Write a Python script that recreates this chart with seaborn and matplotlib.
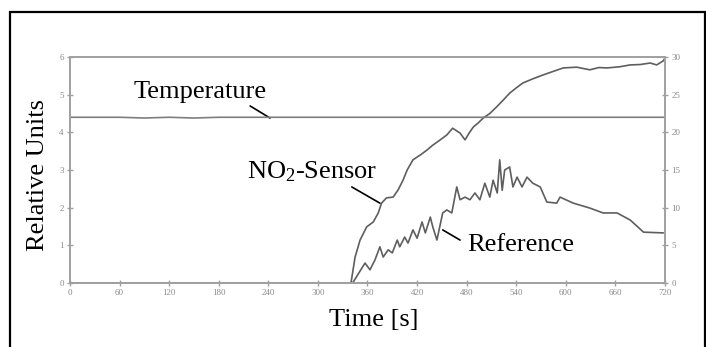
import matplotlib
matplotlib.use("Agg")
import matplotlib.pyplot as plt
from matplotlib.patches import Rectangle
import seaborn as sns

# Axis ticks
x_ticks = [0, 60, 120, 180, 240, 300, 360, 420, 480, 540, 600, 660, 720]
left_ticks = [0, 1, 2, 3, 4, 5, 6]
right_ticks = [0, 5, 10, 15, 20, 25, 30]

# NO2-sensor response (relative units)
sensor_t = [0, 340, 345, 351, 359, 367, 373, 377, 383, 391, 397, 403, 408, 415, 424, 432,
            439, 448, 456, 463, 472, 478, 483, 488, 494, 500, 508, 516, 524, 532, 540, 548,
            560, 572, 585, 597, 613, 629, 640, 650, 665, 678, 690, 702, 710, 718, 720]
sensor_v = [0.0, 0.0, 0.69, 1.14, 1.49, 1.62, 1.86, 2.12, 2.26, 2.28, 2.47, 2.73, 3.00, 3.27, 3.40, 3.53,
            3.66, 3.80, 3.93, 4.11, 3.98, 3.80, 3.98, 4.14, 4.25, 4.38, 4.50, 4.67, 4.85, 5.04, 5.18, 5.31,
            5.42, 5.52, 5.62, 5.71, 5.73, 5.66, 5.72, 5.71, 5.74, 5.79, 5.80, 5.84, 5.79, 5.90, 5.97]

# Reference instrument (relative units)
ref_t = [0, 342, 357, 363, 369, 375, 379, 385, 390, 396, 399, 405, 409, 415, 420, 426,
         430, 436, 439, 444, 451, 456, 462, 468, 472, 478, 484, 490, 496, 502, 508, 512,
         517, 520, 523, 526, 532, 536, 541, 547, 553, 560, 569, 577, 589, 593, 609, 629,
         645, 662, 678, 694, 718]
ref_v = [0.0, 0.0, 0.53, 0.35, 0.61, 0.96, 0.69, 0.88, 0.80, 1.14, 0.96, 1.22, 1.06, 1.41, 1.19, 1.62,
         1.33, 1.75, 1.49, 1.14, 1.86, 1.94, 1.86, 2.55, 2.21, 2.28, 2.21, 2.39, 2.21, 2.65, 2.28, 2.73,
         2.39, 3.27, 2.46, 3.00, 3.08, 2.55, 2.81, 2.55, 2.81, 2.65, 2.55, 2.15, 2.12, 2.28, 2.12, 1.99,
         1.86, 1.86, 1.67, 1.35, 1.33]

# Temperature [°C], right axis
temp_t = [0, 60, 90, 120, 150, 180, 240, 300, 360, 420, 480, 540, 600, 660, 720]
temp_v = [22.0, 22.0, 21.9, 22.0, 21.9, 22.0, 22.0, 22.0, 22.0, 22.0, 22.0, 22.0, 22.0, 22.0, 22.0]

sns.set_theme(style="white")
plt.rcParams["font.family"] = ["Liberation Serif", "DejaVu Serif"]
plt.rcParams["mathtext.fontset"] = "custom"
plt.rcParams["mathtext.rm"] = "Liberation Serif"
plt.rcParams["mathtext.it"] = "Liberation Serif:italic"

fig = plt.figure(figsize=(7.06, 3.47), dpi=100)
ax = fig.add_axes([70 / 706, 1 - 283 / 347, 595 / 706, 226 / 347])
ax2 = ax.twinx()

line_col = "#5e5e5e"
spine_col = "#a0a0a0"

sns.lineplot(x=sensor_t, y=sensor_v, ax=ax, color=line_col, linewidth=1.2)
sns.lineplot(x=ref_t, y=ref_v, ax=ax, color=line_col, linewidth=1.2)
sns.lineplot(x=temp_t, y=temp_v, ax=ax2, color="#7e7e7e", linewidth=1.2)

ax.set_xlim(0, 720)
ax.set_ylim(0, 6)
ax2.set_ylim(0, 30)
ax.set_xticks(x_ticks)
ax.set_yticks(left_ticks)
ax2.set_yticks(right_ticks)
ax.set_xticklabels([str(v) for v in x_ticks])
ax.set_yticklabels([str(v) for v in left_ticks])
ax2.set_yticklabels([str(v) for v in right_ticks])

for a in (ax, ax2):
    for s in a.spines.values():
        s.set_color(spine_col)
        s.set_linewidth(1.2)
    a.tick_params(axis="both", which="both", direction="inout", length=5, width=1,
                  color=spine_col, labelsize=6.5, labelcolor="#8a8a8a", pad=2)
    a.grid(False)
ax.tick_params(axis="y", left=True, right=False)
ax.tick_params(axis="x", bottom=True)
ax2.tick_params(axis="y", right=True, left=False)
ax.set_xlabel("")
ax.set_ylabel("")
ax2.set_ylabel("")

txt = dict(fontsize=19, color="black")
fig.text(38 / 706, 1 - 175 / 347, "Relative Units", rotation=90, ha="center", va="center", **txt)
fig.text(374 / 706, 1 - 320 / 347, "Time [s]", ha="center", va="center", **txt)

# Series labels with leader lines
lead = dict(arrowstyle="-", color="black", lw=1.2, shrinkA=0, shrinkB=0)
ax.text(158, 5.07, "Temperature", ha="center", va="center", **txt)
ax.annotate("", xy=(242, 4.38), xytext=(218, 4.70), arrowprops=lead)
ax.text(293, 2.95, r"NO$_\mathrm{2}$-Sensor", ha="center", va="center", **txt)
ax.annotate("", xy=(375, 2.12), xytext=(341, 2.55), arrowprops=lead)
ax.text(546, 1.01, "Reference", ha="center", va="center", **txt)
ax.annotate("", xy=(472, 1.14), xytext=(451, 1.41), arrowprops=lead)

fig.patches.append(Rectangle((10 / 706, -0.02), 695 / 706, 1 - 12 / 347 + 0.02,
                             transform=fig.transFigure, fill=False, edgecolor="black",
                             linewidth=1.6))

fig.savefig("out.png", dpi=100)
